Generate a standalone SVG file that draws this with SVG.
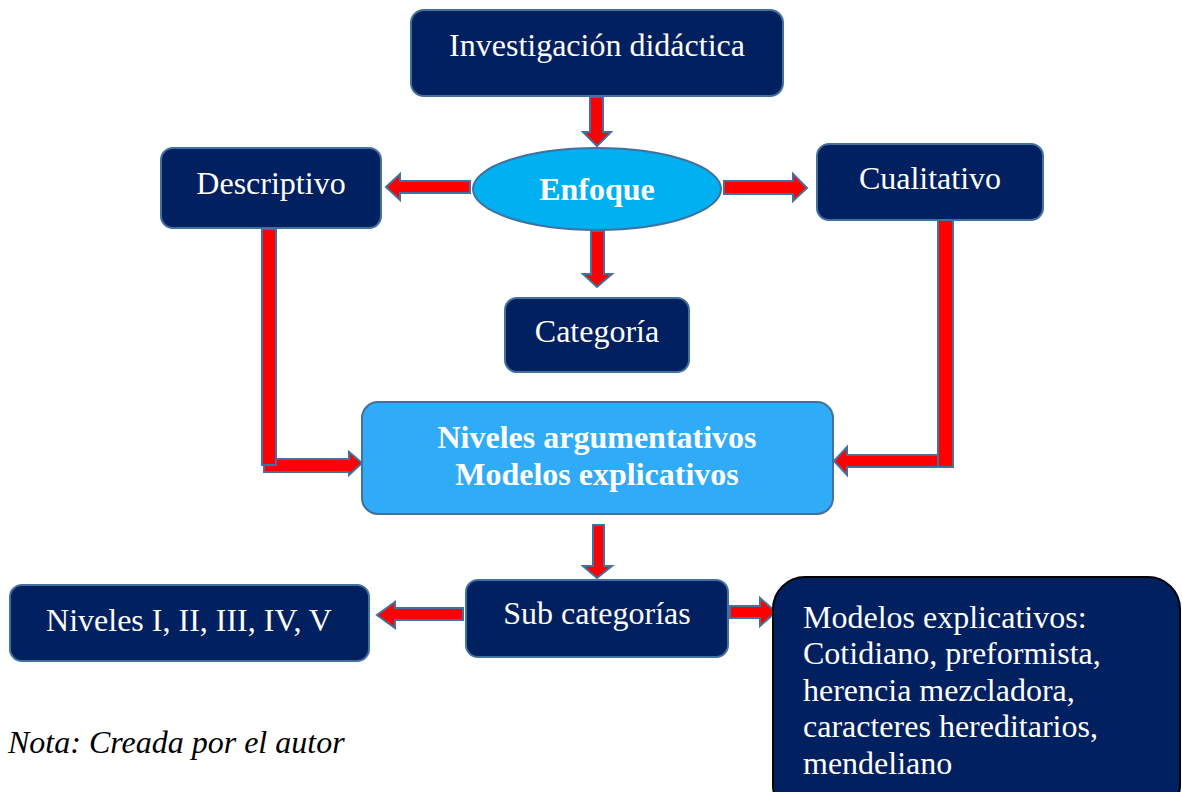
<svg xmlns="http://www.w3.org/2000/svg" width="1182" height="792" viewBox="0 0 1182 792">
<style>
.box{fill:#002060;stroke:#41719C;stroke-width:2}
.lt{fill:#2FABF7;stroke:#41719C;stroke-width:2}
.arr{fill:#FF0000;stroke:#41719C;stroke-width:2;stroke-linejoin:miter}
.t{font-family:"Liberation Serif","Times New Roman",serif;fill:#FFFFFF;font-size:32px}
.c{text-anchor:middle}
.b{font-weight:bold}
</style>
<rect width="1182" height="792" fill="#FFFFFF"/>
<g id="connectors">
<polygon class="arr" points="590,97 603,97 603,132 611,132 597,146 583,132 590,132"/>
<polygon class="arr" points="470,181 470,193 400,193 400,200 386,187 400,174 400,181"/>
<polygon class="arr" points="724,181 793,181 793,174 807,188 793,201 793,194 724,194"/>
<polygon class="arr" points="591,231 604,231 604,274 612,274 597,287 583,274 591,274"/>
<polygon class="arr" points="264,459 349,459 349,452 362,463 349,475 349,472 264,472"/>
<rect class="arr" x="262" y="229" width="14" height="236"/>
<polygon class="arr" points="950,455 847,455 847,447 834,461 847,475 847,467 950,467"/>
<rect class="arr" x="938" y="220" width="15" height="247"/>
<polygon class="arr" points="593,525 604,525 604,566 612,566 597,578 583,566 593,566"/>
<polygon class="arr" points="463,608 463,620 395,620 395,628 377,615 395,602 395,608"/>
<polygon class="arr" points="730,606 760,606 760,598 776,612 760,626 760,618 730,618"/>
</g>
<g id="investigacion">
<rect class="box" x="411" y="10" width="372" height="86" rx="13"/>
<text class="t c" x="597" y="56">Investigación didáctica</text>
</g>
<g id="enfoque">
<ellipse cx="597" cy="189" rx="124" ry="41" fill="#00B0F0" stroke="#41719C" stroke-width="2"/>
<text class="t c b" x="597" y="200">Enfoque</text>
</g>
<g id="descriptivo">
<rect class="box" x="161" y="148" width="220" height="80" rx="12"/>
<text class="t c" x="271" y="194">Descriptivo</text>
</g>
<g id="cualitativo">
<rect class="box" x="817" y="144" width="226" height="76" rx="12"/>
<text class="t c" x="930" y="189">Cualitativo</text>
</g>
<g id="categoria">
<rect class="box" x="505" y="298" width="184" height="74" rx="12"/>
<text class="t c" x="597" y="342">Categoría</text>
</g>
<g id="niveles-modelos">
<rect class="lt" x="362" y="402" width="471" height="112" rx="16"/>
<text class="t c b" x="597" y="448">Niveles argumentativos</text>
<text class="t c b" x="597" y="485">Modelos explicativos</text>
</g>
<g id="subcategorias">
<rect class="box" x="466" y="580" width="262" height="77" rx="12"/>
<text class="t c" x="597" y="624">Sub categorías</text>
</g>
<g id="niveles-i-v">
<rect class="box" x="10" y="585" width="359" height="76" rx="12"/>
<text class="t c" x="189" y="631">Niveles I, II, III, IV, V</text>
</g>
<g id="modelos">
<rect x="773" y="577" width="407" height="240" rx="32" fill="#002060" stroke="#000000" stroke-width="2"/>
<text class="t" x="803" y="628">Modelos explicativos:</text>
<text class="t" x="803" y="664">Cotidiano, preformista,</text>
<text class="t" x="803" y="701">herencia mezcladora,</text>
<text class="t" x="803" y="737">caracteres hereditarios,</text>
<text class="t" x="803" y="774">mendeliano</text>
</g>
<g id="nota">
<text x="8" y="753" font-family="'Liberation Serif','Times New Roman',serif" font-style="italic" font-size="32" fill="#000000">Nota: Creada por el autor</text>
</g>
</svg>
